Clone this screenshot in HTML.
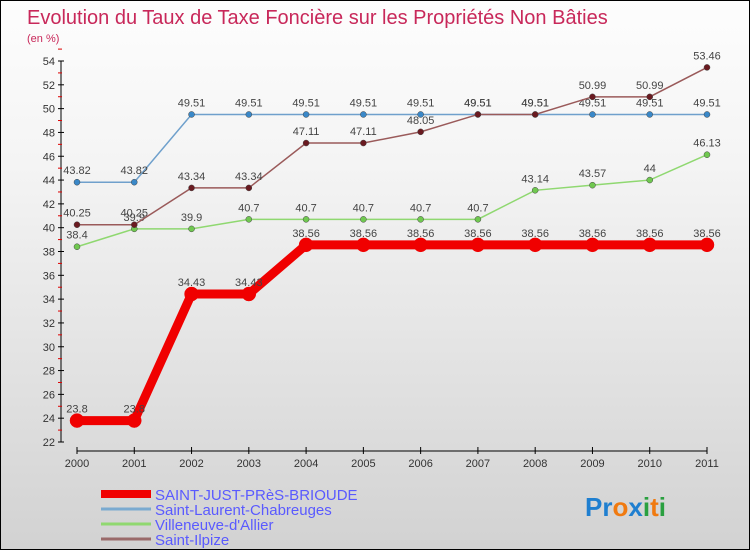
<!DOCTYPE html>
<html><head><meta charset="utf-8"><style>
body{margin:0;width:750px;height:550px;overflow:hidden;font-family:"Liberation Sans",sans-serif}
#wrap{position:relative;width:748px;height:548px;border:1px solid #000;background:linear-gradient(#fdfdfd,#f4f4f4 30%,#d2d2d2)}
svg{position:absolute;left:0;top:0}
</style></head><body>
<div id="wrap">
<svg id="chart" width="750" height="550">
<text x="26" y="23" font-size="20" fill="#c8285a">Evolution du Taux de Taxe Foncière sur les Propriétés Non Bâties</text>
<text x="26" y="41" font-size="11" fill="#c8285a">(en %)</text>
<g id="axes"></g><g id="series"></g><g id="legend"></g>
<text x="584" y="515" font-size="26" font-weight="bold"><tspan fill="#1f7fd0">Pr</tspan><tspan fill="#f07a10">o</tspan><tspan fill="#1f7fd0">x</tspan><tspan fill="#2aa040">i</tspan><tspan fill="#f07a10">t</tspan><tspan fill="#2aa040">i</tspan></text>
</svg></div>
<script>
const years=[2000,2001,2002,2003,2004,2005,2006,2007,2008,2009,2010,2011];
const yTicks=[22,24,26,28,30,32,34,36,38,40,42,44,46,48,50,52,54];
const redVals=[23.8,23.8,34.43,34.43,38.56,38.56,38.56,38.56,38.56,38.56,38.56,38.56];
const blueVals=[43.82,43.82,49.51,49.51,49.51,49.51,49.51,49.51,49.51,49.51,49.51,49.51];
const greenVals=[38.4,39.9,39.9,40.7,40.7,40.7,40.7,40.7,43.14,43.57,44,46.13];
const brownVals=[40.25,40.25,43.34,43.34,47.11,47.11,48.05,49.51,49.51,50.99,50.99,53.46];
const names=["SAINT-JUST-PRèS-BRIOUDE","Saint-Laurent-Chabreuges","Villeneuve-d'Allier","Saint-Ilpize"];
const NS="http://www.w3.org/2000/svg";
const xS=i=>76+i*(630/11);
const yS=v=>60+(54-v)*(381/32);
function mk(p,t,a){const e=document.createElementNS(NS,t);for(const k in a)e.setAttribute(k,a[k]);p.appendChild(e);return e;}
const ax=document.getElementById('axes');
let e=mk(ax,'line',{x1:60,y1:60,x2:60,y2:441,stroke:'#000'});


yTicks.forEach(v=>{mk(ax,'line',{x1:57,x2:63,y1:yS(v),y2:yS(v),stroke:'#000'});
mk(ax,'line',{x1:57,x2:61,y1:yS(v+1),y2:yS(v+1),stroke:'#d00'});
const t=mk(ax,'text',{x:54,y:yS(v)+4,'font-size':11,'text-anchor':'end',fill:'#333'});t.textContent=v;

});
e=mk(ax,'line',{x1:76,y1:450,x2:706,y2:450,stroke:'#000'});


years.forEach((y,i)=>{mk(ax,'line',{x1:xS(i),x2:xS(i),y1:446,y2:453,stroke:'#000'});
const t=mk(ax,'text',{x:xS(i),y:466,'font-size':11,'text-anchor':'middle',fill:'#333'});t.textContent=y;

});
const sg=document.getElementById('series');
const defs=[[blueVals,'#6fa0cc','#3a88c8',1.5,3,'series-saint-laurent'],[greenVals,'#8fd870','#70c850',1.5,3,'series-villeneuve'],[brownVals,'#9a5a5a','#6a1a20',1.5,3,'series-saint-ilpize'],[redVals,'#f00000','#f00000',9,7,'series-saint-just']];
defs.forEach(([vals,lc,dc,w,r,nm])=>{
const g=mk(sg,'g',{});


mk(g,'polyline',{points:vals.map((v,i)=>xS(i)+','+yS(v)).join(' '),fill:'none',stroke:lc,'stroke-width':w});
vals.forEach((v,i)=>{const c=mk(g,'circle',{cx:xS(i),cy:yS(v),r:r,fill:dc,stroke:w>2?dc:'#444','stroke-width':0.5});


const t=mk(g,'text',{x:xS(i),y:yS(v)-8,'font-size':11,'text-anchor':'middle',fill:'#444'});t.textContent=v;

});});
const lg=document.getElementById('legend');
const lcols=['#f00000','#7aaad0','#90d870','#9a6a6a'];const lw=[8,3,3,3];
names.forEach((n,i)=>{const y=492+i*15;
const g=mk(lg,'g',{});


mk(g,'line',{x1:100,x2:150,y1:y+1,y2:y+1,stroke:lcols[i],'stroke-width':lw[i]});
const t=mk(g,'text',{x:154,y:y+7,'font-size':15,fill:'#5a5aff'});t.textContent=n;});
</script></body></html>
